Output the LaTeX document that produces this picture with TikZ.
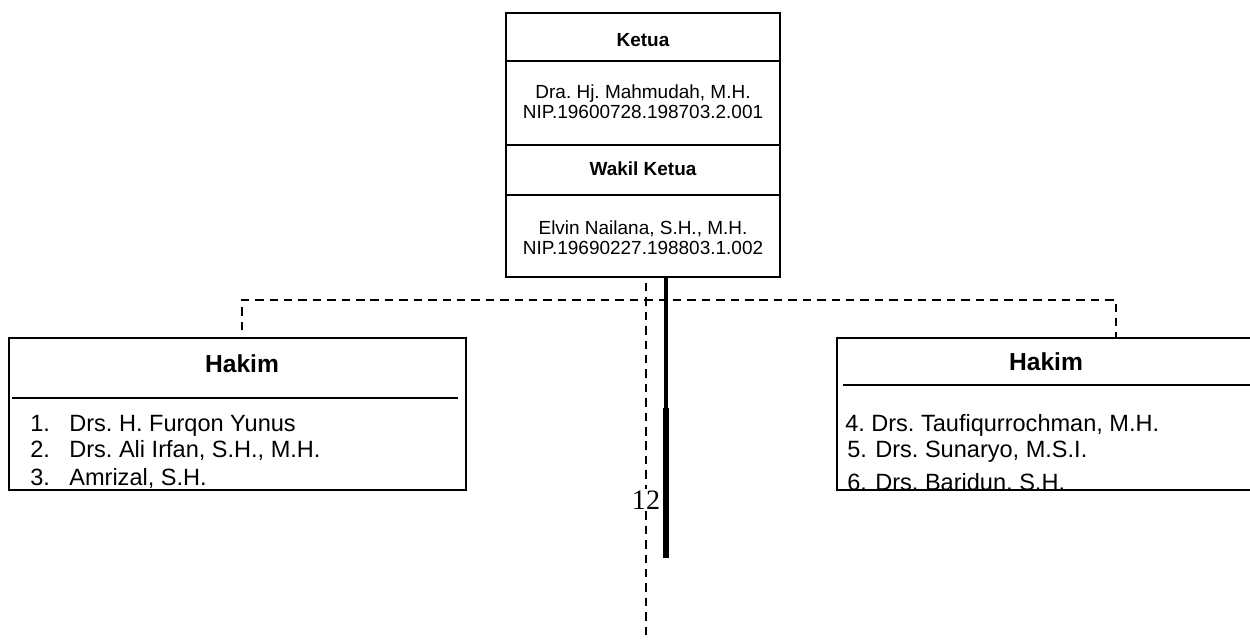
\documentclass[tikz,border=0pt]{standalone}
\usepackage{fontspec}
\setmainfont{Liberation Sans}
\newfontfamily\angkafont{Liberation Serif}
\usetikzlibrary{positioning}
\frenchspacing

\begin{document}
\begin{tikzpicture}[x=0.02cm, y=-0.02cm]
    % Define styles
    \tikzset{
        bingkai/.style={draw, line width=1.1pt, inner sep=0pt},
        judul/.style={font=\bfseries\fontsize{10.8}{12}\selectfont},
        hakim/.style={font=\bfseries\fontsize{14}{16}\selectfont},
        nama/.style={align=center, font=\fontsize{10.8}{11.2}\selectfont},
        anggota/.style={anchor=base west, inner sep=0pt, font=\fontsize{13.4}{15}\selectfont},
        garis putus/.style={line width=1.3pt, dash pattern=on 4.8pt off 3.4pt}
    }
    \useasboundingbox (0,0) rectangle (1250,641);
    \clip (0,0) rectangle (1250,641);

    % Define nodes
    \node[bingkai, minimum width=5.48cm, minimum height=5.28cm] (Pimpinan) at (643, 145) {};
    \node[judul] (Ketua) at (643, 40) {Ketua};
    \node[nama] (NamaKetua) at (643, 102) {Dra. Hj. Mahmudah, M.H.\\NIP.19600728.198703.2.001};
    \node[judul] (WakilKetua) at (643, 169) {Wakil Ketua};
    \node[nama] (NamaWakil) at (643, 238) {Elvin Nailana, S.H., M.H.\\NIP.19690227.198803.1.002};

    \node[bingkai, minimum width=9.14cm, minimum height=3.04cm] (HakimKiri) at (237.5, 414) {};
    \node[hakim] (JudulKiri) at (242, 364) {Hakim};
    \node[bingkai, minimum width=9.06cm, minimum height=3.04cm] (HakimKanan) at (1063.5, 414) {};
    \node[hakim] (JudulKanan) at (1046, 362) {Hakim};

    \node[fill=white, inner sep=1pt, font=\angkafont\fontsize{16}{16}\selectfont] (Halaman) at (646, 500) {12};

    % Separator lines
    \draw[line width=0.6pt] (Pimpinan.west |- 0,61) -- (Pimpinan.east |- 0,61);
    \draw[line width=1.1pt] (Pimpinan.west |- 0,145) -- (Pimpinan.east |- 0,145);
    \draw[line width=0.6pt] (Pimpinan.west |- 0,195) -- (Pimpinan.east |- 0,195);
    \draw[line width=1.6pt] (12, 398) -- (458, 398);
    \draw[line width=1.6pt] (843, 385) -- (1250, 385);

    % Members
    \begin{scope}
        \clip (HakimKiri.north west) rectangle (HakimKiri.south east);
        \node[anggota] (NoSatu) at (30, 432) {1.};
        \node[anggota] (Satu) at (69, 432) {Drs. H. Furqon Yunus};
        \node[anggota] (NoDua) at (30, 458) {2.};
        \node[anggota] (Dua) at (69, 458) {Drs. Ali Irfan, S.H., M.H.};
        \node[anggota] (NoTiga) at (30, 485) {3.};
        \node[anggota] (Tiga) at (69, 485) {Amrizal, S.H.};
    \end{scope}
    \begin{scope}
        \clip (HakimKanan.north west) rectangle (HakimKanan.south east);
        \node[anggota] (NoEmpat) at (845, 432) {4.};
        \node[anggota] (Empat) at (871, 432) {Drs. Taufiqurrochman, M.H.};
        \node[anggota] (NoLima) at (847, 458) {5.};
        \node[anggota] (Lima) at (875, 458) {Drs. Sunaryo, M.S.I.};
        \node[anggota] (NoEnam) at (847, 490) {6.};
        \node[anggota] (Enam) at (875, 490) {Drs. Baridun, S.H.};
    \end{scope}

    % Connectors
    \coordinate (KiriUjung) at (242, 330);
    \coordinate (KiriAtas) at (242, 300);
    \coordinate (KananAtas) at (1116, 300);
    \coordinate (KananUjung) at (1116, 338);
    \coordinate (TengahAtas) at (646, 283);
    \coordinate (TengahBawah) at (646, 641);
    \coordinate (TebalAtas) at (666, 277);
    \coordinate (TebalTengah) at (666, 408);
    \coordinate (TebalBawah) at (666, 558);
    \draw[garis putus] (KiriUjung) -- (KiriAtas) -- (KananAtas) -- (KananUjung);
    \draw[garis putus] (TengahAtas) -- (Halaman.north);
    \draw[garis putus] (Halaman.south) -- (TengahBawah);
    \draw[line width=2pt] (TebalAtas) -- (TebalTengah);
    \draw[line width=3.4pt] (TebalTengah) -- (TebalBawah);
\end{tikzpicture}
\end{document}
